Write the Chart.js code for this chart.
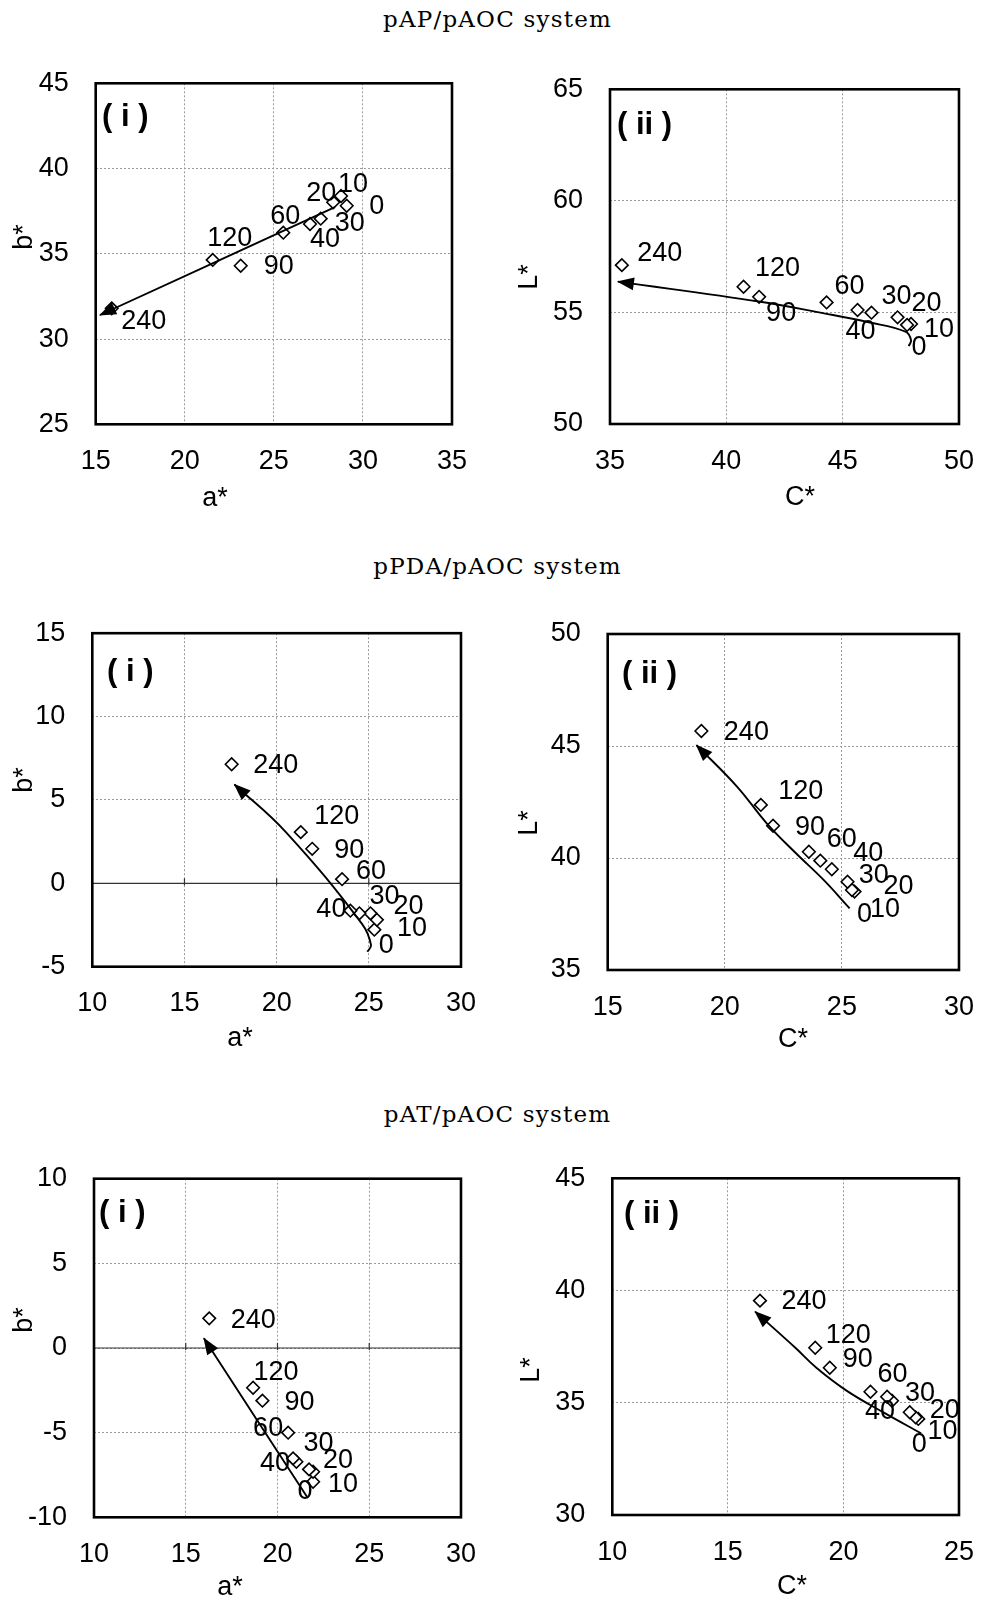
<!DOCTYPE html>
<html>
<head>
<meta charset="utf-8">
<script src="https://cdn.jsdelivr.net/npm/chart.js@4.4.0/dist/chart.umd.min.js"></script>
<style>
  html, body { margin: 0; padding: 0; background: #fff; }
  body { width: 995px; height: 1608px; position: relative; overflow: hidden; }
  .sys { position: absolute; left: 0; width: 995px; text-align: center; line-height: 26px;
         font-family: "DejaVu Serif", serif; font-size: 23px; letter-spacing: 1.2px; color: #000; }
  .panel { position: absolute; }
  .panel canvas { display: block; }
</style>
</head>
<body>
<div class="sys" style="top:6px">pAP/pAOC system</div>
<div class="sys" style="top:553px">pPDA/pAOC system</div>
<div class="sys" style="top:1101px">pAT/pAOC system</div>

<div class="panel" style="left:0px;top:40px"><canvas id="c1" width="497" height="490"></canvas></div>
<div class="panel" style="left:497px;top:40px"><canvas id="c2" width="498" height="490"></canvas></div>
<div class="panel" style="left:0px;top:590px"><canvas id="c3" width="497" height="490"></canvas></div>
<div class="panel" style="left:497px;top:590px"><canvas id="c4" width="498" height="490"></canvas></div>
<div class="panel" style="left:0px;top:1135px"><canvas id="c5" width="497" height="473"></canvas></div>
<div class="panel" style="left:497px;top:1135px"><canvas id="c6" width="498" height="473"></canvas></div>

<script>
// irradiation time (min) for each point
const times = [0, 10, 20, 30, 40, 60, 90, 120, 240];

// pAP/pAOC
const apA = [29.09, 28.77, 28.33, 27.63, 27.03, 25.53, 23.14, 21.57, 15.90];
const apB = [37.82, 38.39, 38.02, 37.06, 36.75, 36.24, 34.30, 34.64, 31.80];
const apC = [47.94, 47.77, 47.36, 46.24, 45.64, 44.31, 41.41, 40.74, 35.51];
const apL = [54.48, 54.44, 54.78, 54.99, 55.11, 55.45, 55.70, 56.15, 57.12];
const apAbTrendX = [28.43, 15.24];
const apAbTrendY = [37.74, 31.41];
const apClTrendX = [47.84, 47.94, 47.70, 46.12, 44.20, 41.46, 35.34];
const apClTrendY = [53.49, 53.76, 54.14, 54.56, 54.96, 55.48, 56.38];

// pPDA/pAOC
const pdaA = [25.30, 25.44, 25.09, 24.49, 24.00, 23.55, 21.93, 21.31, 17.56];
const pdaB = [-2.78, -2.19, -1.80, -1.80, -1.64, 0.25, 2.07, 3.07, 7.14];
const pdaC = [25.54, 25.43, 25.24, 24.57, 24.08, 23.59, 22.06, 21.54, 19.00];
const pdaL = [38.50, 38.57, 38.94, 39.50, 39.88, 40.28, 41.44, 42.37, 45.67];
const pdaAbTrendX = [24.92, 25.12, 24.63, 20.50, 17.71];
const pdaAbTrendY = [-4.10, -3.70, -2.43, 3.07, 5.93];
const pdaClTrendX = [25.33, 24.22, 23.04, 21.79, 20.53, 18.79];
const pdaClTrendY = [37.75, 39.02, 40.21, 41.55, 43.18, 45.04];

// pAT/pAOC
const atA = [21.94, 21.94, 21.72, 21.03, 20.85, 20.58, 19.18, 18.67, 16.28];
const atB = [-7.90, -7.31, -7.17, -6.72, -6.52, -5.00, -3.11, -2.35, 1.75];
const atC = [23.24, 23.12, 22.87, 22.10, 21.89, 21.17, 19.41, 18.78, 16.39];
const atL = [34.28, 34.35, 34.58, 35.09, 35.27, 35.49, 36.56, 37.45, 39.55];
const atAbTrendX = [21.65, 15.99];
const atAbTrendY = [-8.86, 0.57];
const atClTrendX = [23.36, 21.75, 20.15, 18.83, 17.92, 16.18];
const atClTrendY = [33.64, 34.56, 35.53, 36.56, 37.45, 39.06];

// axis ticks
const apAbXTicks = [15, 20, 25, 30, 35];
const apAbYTicks = [25, 30, 35, 40, 45];
const apClXTicks = [35, 40, 45, 50];
const apClYTicks = [50, 55, 60, 65];
const pdaAbXTicks = [10, 15, 20, 25, 30];
const pdaAbYTicks = [-5, 0, 5, 10, 15];
const pdaClXTicks = [15, 20, 25, 30];
const pdaClYTicks = [35, 40, 45, 50];
const atAbXTicks = [10, 15, 20, 25, 30];
const atAbYTicks = [-10, -5, 0, 5, 10];
const atClXTicks = [10, 15, 20, 25];
const atClYTicks = [30, 35, 40, 45];

// where each time label sits relative to its diamond (px)
const apAbLabelOff = [[30, 1], [12, -11], [-12, -9], [29, 5], [15, 16], [2, -16], [38, 1], [17, -21], [32, 13]];
const apClLabelOff = [[8, 24], [32, 5], [29, -14], [25, -16], [3, 22], [23, -16], [22, 17], [34, -18], [38, -12]];
const pdaAbLabelOff = [[12, 16], [35, 9], [38, -7], [25, -17], [-19, -1], [29, -8], [37, 2], [36, -16], [44, 1]];
const pdaClLabelOff = [[10, 23], [33, 20], [51, 5], [42, 6], [48, -7], [33, -12], [37, 2], [40, -13], [45, 2]];
const atAbLabelOff = [[-8, 10], [30, 13], [29, -9], [22, -18], [-18, 5], [-20, -4], [37, 2], [23, -15], [44, 2]];
const atClLabelOff = [[1, 26], [27, 14], [35, -2], [28, -7], [-7, 15], [22, -17], [28, -8], [33, -12], [44, 1]];

const SANS = '"Liberation Sans", Arial, sans-serif';

const panels = [
  { id: 'c1', box: [0, 40, 497, 490], plot: [95.7, 83.3, 452, 424.3],
    xs: apA, ys: apB, tx: apAbTrendX, ty: apAbTrendY, xTicks: apAbXTicks, yTicks: apAbYTicks,
    off: apAbLabelOff, xTitle: 'a*', yTitle: 'b*', xTitleAt: [215, 499], yTitleAt: [25, 237],
    tag: '( i )', tagAt: [102, 117], zero: false },
  { id: 'c2', box: [497, 40, 498, 490], plot: [610, 89.3, 974, 424],
    xs: apC, ys: apL, tx: apClTrendX, ty: apClTrendY, xTicks: apClXTicks, yTicks: apClYTicks,
    off: apClLabelOff, xTitle: 'C*', yTitle: 'L*', xTitleAt: [800, 498], yTitleAt: [530, 277],
    tag: '( ii )', tagAt: [617, 125], zero: false },
  { id: 'c3', box: [0, 590, 497, 490], plot: [92.3, 630, 462.7, 966.7],
    xs: pdaA, ys: pdaB, tx: pdaAbTrendX, ty: pdaAbTrendY, xTicks: pdaAbXTicks, yTicks: pdaAbYTicks,
    off: pdaAbLabelOff, xTitle: 'a*', yTitle: 'b*', xTitleAt: [240, 1039], yTitleAt: [25, 780],
    tag: '( i )', tagAt: [107, 672], zero: true },
  { id: 'c4', box: [497, 590, 498, 490], plot: [607.7, 634, 966.7, 970],
    xs: pdaC, ys: pdaL, tx: pdaClTrendX, ty: pdaClTrendY, xTicks: pdaClXTicks, yTicks: pdaClYTicks,
    off: pdaClLabelOff, xTitle: 'C*', yTitle: 'L*', xTitleAt: [793, 1040], yTitleAt: [530, 823],
    tag: '( ii )', tagAt: [622, 674], zero: false },
  { id: 'c5', box: [0, 1135, 497, 473], plot: [94, 1178.7, 461.3, 1517.3],
    xs: atA, ys: atB, tx: atAbTrendX, ty: atAbTrendY, xTicks: atAbXTicks, yTicks: atAbYTicks,
    off: atAbLabelOff, xTitle: 'a*', yTitle: 'b*', xTitleAt: [230, 1588], yTitleAt: [25, 1320],
    tag: '( i )', tagAt: [99, 1213], zero: true },
  { id: 'c6', box: [497, 1135, 498, 473], plot: [612.3, 1178.3, 971, 1515],
    xs: atC, ys: atL, tx: atClTrendX, ty: atClTrendY, xTicks: atClXTicks, yTicks: atClYTicks,
    off: atClLabelOff, xTitle: 'C*', yTitle: 'L*', xTitleAt: [792, 1587], yTitleAt: [532, 1370],
    tag: '( ii )', tagAt: [624, 1214], zero: false }
];

function arrowHead(ctx, tipX, tipY, fromX, fromY) {
  const ang = Math.atan2(tipY - fromY, tipX - fromX);
  ctx.save();
  ctx.translate(tipX, tipY);
  ctx.rotate(ang);
  ctx.beginPath();
  ctx.moveTo(1, 0);
  ctx.lineTo(-16, -6.5);
  ctx.lineTo(-16, 6.5);
  ctx.closePath();
  ctx.fillStyle = '#000';
  ctx.fill();
  ctx.restore();
}

const decor = {
  id: 'decor',
  beforeDatasetsDraw(chart) {
    const p = chart.options.plugins.decor;
    if (!p.zero) return;
    const ctx = chart.ctx, area = chart.chartArea;
    const y0 = chart.scales.y.getPixelForValue(0);
    ctx.save();
    ctx.strokeStyle = '#333';
    ctx.lineWidth = 1.2;
    ctx.beginPath();
    ctx.moveTo(area.left, y0);
    ctx.lineTo(area.right, y0);
    chart.scales.x.ticks.forEach(t => {
      const x = chart.scales.x.getPixelForValue(t.value);
      ctx.moveTo(x, y0 - 5);
      ctx.lineTo(x, y0 + 2);
    });
    ctx.stroke();
    ctx.restore();
  },
  afterDatasetsDraw(chart) {
    const p = chart.options.plugins.decor;
    const ctx = chart.ctx, area = chart.chartArea;

    // arrow head at the end of the trend curve
    const line = chart.getDatasetMeta(1).data;
    const tip = line[line.length - 1];
    let fx = line[line.length - 2].x, fy = line[line.length - 2].y;
    if (tip.cp1x !== undefined && Math.hypot(tip.cp1x - tip.x, tip.cp1y - tip.y) > 2) {
      fx = tip.cp1x; fy = tip.cp1y;
    }
    arrowHead(ctx, tip.x, tip.y, fx, fy);

    // plot frame
    ctx.save();
    ctx.strokeStyle = '#000';
    ctx.lineWidth = 2.6;
    ctx.strokeRect(area.left, area.top, area.right - area.left, area.bottom - area.top);
    ctx.restore();

    ctx.save();
    ctx.fillStyle = '#000';
    ctx.textAlign = 'center';
    ctx.textBaseline = 'middle';
    ctx.font = '27px ' + SANS;
    // time labels next to the diamonds
    chart.getDatasetMeta(0).data.forEach((el, i) => {
      ctx.fillText(String(times[i]), el.x + p.off[i][0], el.y + p.off[i][1]);
    });
    // axis titles
    ctx.font = '27px ' + SANS;
    ctx.fillText(p.xTitle, p.xTitleAt[0], p.xTitleAt[1]);
    ctx.save();
    ctx.translate(p.yTitleAt[0], p.yTitleAt[1]);
    ctx.rotate(-Math.PI / 2);
    ctx.fillText(p.yTitle, 0, 0);
    ctx.restore();
    // panel tag
    ctx.font = 'bold 31px ' + SANS;
    ctx.textAlign = 'left';
    ctx.fillText(p.tag, p.tagAt[0], p.tagAt[1]);
    ctx.restore();
  }
};

function axis(ticks, fitFn, pad) {
  return {
    type: 'linear',
    min: ticks[0],
    max: ticks[ticks.length - 1],
    afterBuildTicks: s => { s.ticks = ticks.map(v => ({ value: v })); },
    afterFit: fitFn,
    grid: { color: '#9a9a9a', lineWidth: 1, drawTicks: false },
    border: { display: false, dash: [2, 2] },
    ticks: {
      color: '#000', padding: pad, autoSkip: false, maxRotation: 0,
      font: { family: SANS, size: 27 },
      callback: v => String(v)
    }
  };
}

panels.forEach(pn => {
  const [bl, bt, bw, bh] = pn.box;
  const [L, T, R, B] = pn.plot;
  const rel = pt => [pt[0] - bl, pt[1] - bt];
  new Chart(document.getElementById(pn.id), {
    type: 'scatter',
    data: {
      datasets: [
        {
          data: pn.xs.map((x, i) => ({ x: x, y: pn.ys[i] })),
          pointStyle: 'rectRot',
          pointRadius: 6.3,
          pointBorderWidth: 1.6,
          pointBackgroundColor: '#fff',
          pointBorderColor: '#000',
          showLine: false,
          order: 2
        },
        {
          data: pn.tx.map((x, i) => ({ x: x, y: pn.ty[i] })),
          showLine: true,
          tension: 0.4,
          borderColor: '#000',
          borderWidth: 1.9,
          pointRadius: 0,
          fill: false,
          order: 1
        }
      ]
    },
    options: {
      responsive: false,
      animation: false,
      events: [],
      layout: { padding: { left: 0, top: T - bt, right: bl + bw - R, bottom: 0 } },
      scales: {
        x: axis(pn.xTicks, s => { s.height = bt + bh - B; }, 21),
        y: axis(pn.yTicks, s => { s.width = L - bl; }, 27)
      },
      plugins: {
        legend: { display: false },
        tooltip: { enabled: false },
        decor: {
          off: pn.off, zero: pn.zero, tag: pn.tag,
          xTitle: pn.xTitle, yTitle: pn.yTitle,
          xTitleAt: rel(pn.xTitleAt), yTitleAt: rel(pn.yTitleAt), tagAt: rel(pn.tagAt)
        }
      }
    },
    plugins: [decor]
  });
});
</script>
</body>
</html>
